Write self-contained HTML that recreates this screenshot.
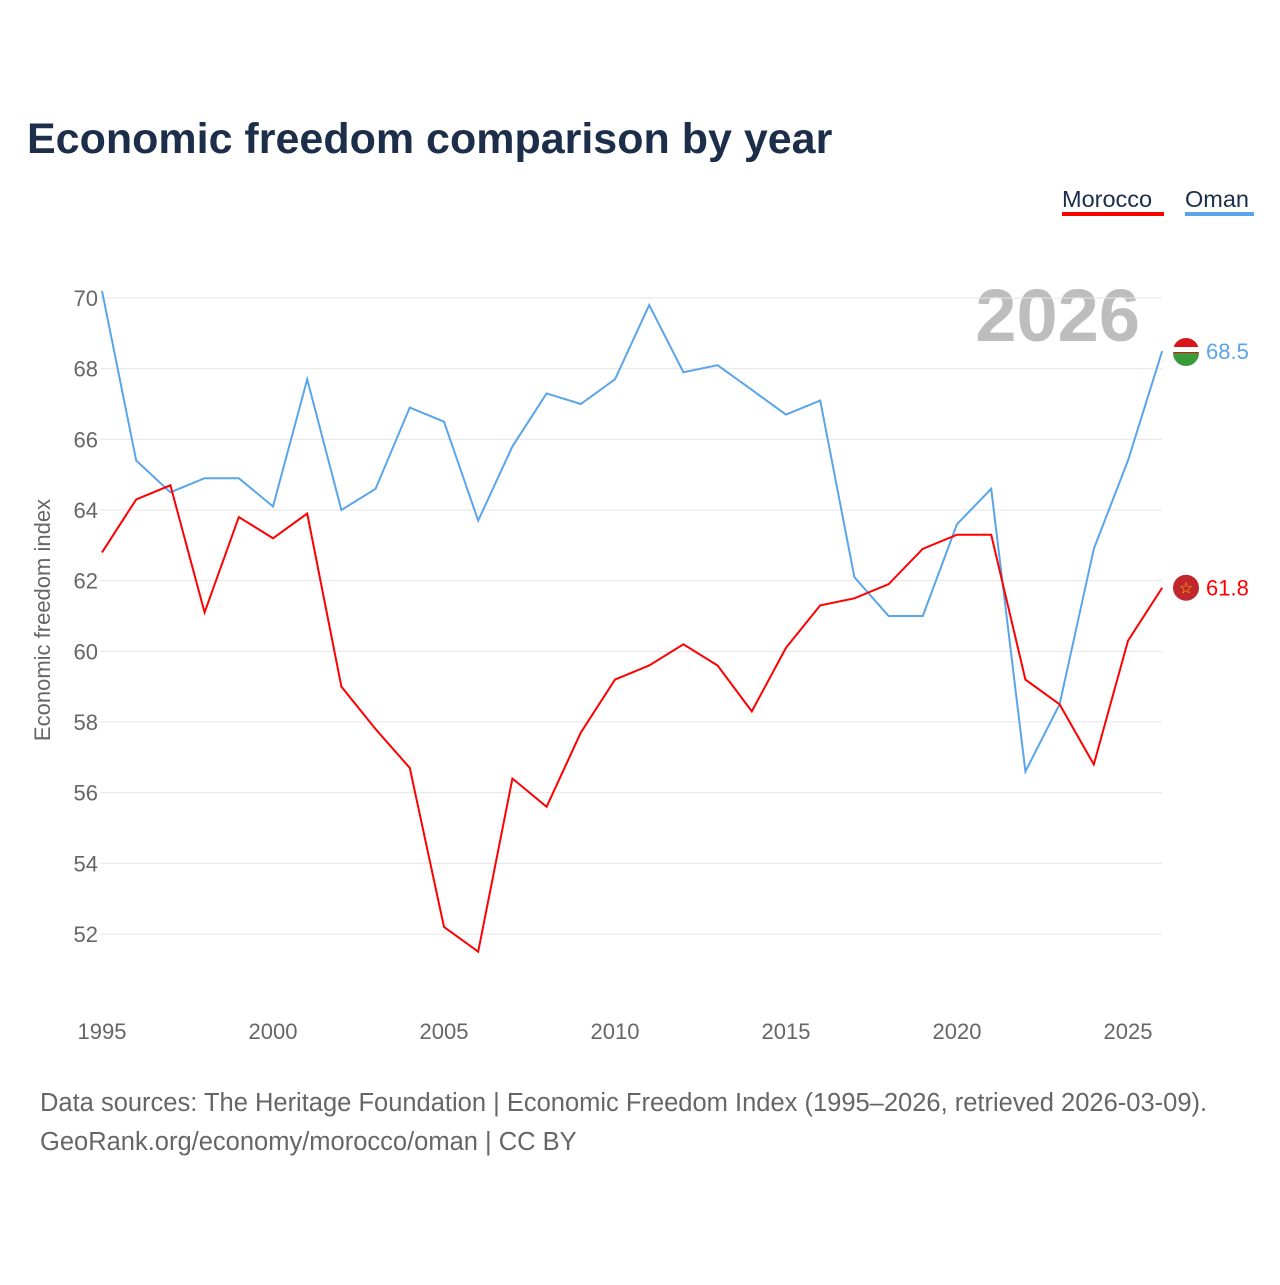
<!DOCTYPE html>
<html><head><meta charset="utf-8">
<style>
body{margin:0;background:#fff;font-family:"Liberation Sans",sans-serif;}
#wrap{position:relative;width:1280px;height:1280px;}
</style></head>
<body>
<div id="wrap">
<svg id="chart" width="1280" height="1280">
<text x="27" y="153" font-size="43" font-weight="bold" fill="#1c2e4a">Economic freedom comparison by year</text>
<g><text x="1062" y="207" font-size="23.5" fill="#1c2e4a">Morocco</text><rect x="1062" y="212" width="102" height="4" fill="#ff0000"/></g>
<g><text x="1185" y="207" font-size="23.5" fill="#1c2e4a">Oman</text><rect x="1185" y="212" width="69" height="4" fill="#5aa5ea"/></g>
<text x="1140" y="341" font-size="74" font-weight="bold" fill="#bdbdbd" text-anchor="end">2026</text>
<text transform="translate(50,620) rotate(-90)" font-size="22" fill="#666" text-anchor="middle">Economic freedom index</text>
<g id="grid"></g><g id="series"></g>
<text x="40" y="1111" font-size="25.5" fill="#666">Data sources: The Heritage Foundation | Economic Freedom Index (1995–2026, retrieved 2026-03-09).</text>
<text x="40" y="1150" font-size="25.5" fill="#666">GeoRank.org/economy/morocco/oman | CC BY</text>
</svg>
</div>
<script>
const years=[1995,1996,1997,1998,1999,2000,2001,2002,2003,2004,2005,2006,2007,2008,2009,2010,2011,2012,2013,2014,2015,2016,2017,2018,2019,2020,2021,2022,2023,2024,2025,2026];
const morocco=[62.8,64.3,64.7,61.1,63.8,63.2,63.9,59.0,57.8,56.7,52.2,51.5,56.4,55.6,57.7,59.2,59.6,60.2,59.6,58.3,60.1,61.3,61.5,61.9,62.9,63.3,63.3,59.2,58.5,56.8,60.3,61.8];
const oman=[70.2,65.4,64.5,64.9,64.9,64.1,67.7,64.0,64.6,66.9,66.5,63.7,65.8,67.3,67.0,67.7,69.8,67.9,68.1,67.4,66.7,67.1,62.1,61.0,61.0,63.6,64.6,56.6,58.5,62.9,65.4,68.5];
const yTicks=[52,54,56,58,60,62,64,66,68,70];
const xTicks=[1995,2000,2005,2010,2015,2020,2025];
const NS="http://www.w3.org/2000/svg";
const X=y=>102+(y-1995)*(1026/30);
const Y=v=>298+(70-v)*(636/18);
const grid=document.getElementById('grid'),series=document.getElementById('series');
function mk(tag,attrs,parent){const e=document.createElementNS(NS,tag);for(const k in attrs)e.setAttribute(k,attrs[k]);parent.appendChild(e);return e;}
yTicks.forEach(t=>{
 const l=mk('line',{x1:100,x2:1162,y1:Y(t),y2:Y(t),stroke:'#e6e6e6','stroke-width':1},grid);
 
 
 const tx=mk('text',{x:98,y:Y(t)+8,'font-size':22,fill:'#666','text-anchor':'end'},grid);tx.textContent=t;
 
 
});
xTicks.forEach(t=>{
 const tx=mk('text',{x:X(t),y:1039,'font-size':22,fill:'#666','text-anchor':'middle'},grid);tx.textContent=t;
 
 
});
function draw(vals,color,name){
 const p=mk('polyline',{points:vals.map((v,i)=>X(years[i])+','+Y(v)).join(' '),fill:'none',stroke:color,'stroke-width':2},series);
 
 
 const last=vals[vals.length-1];
 const c=mk('circle',{cx:1186,cy:Y(last),r:13,fill:name==='oman'?'#db161b':'#c1272d'},series);
 
 
 if(name==='oman'){mk('path',{d:`M1173,${Y(last)+2} h26 a13,13 0 0 1 -26,0z`,fill:'#3a9b3a'},series);mk('rect',{x:1173,y:Y(last)-4,width:26,height:5,fill:'#fff'},series);}
 else{const s=mk('text',{x:1186,y:Y(last)+6,'font-size':16,fill:'#f5c400','text-anchor':'middle'},series);s.textContent='☆';}
 const lbl=mk('text',{x:1206,y:Y(last)+8,'font-size':22,fill:color},series);lbl.textContent=last.toFixed(1);
 
 
}
draw(oman,'#5aa5ea','oman');
draw(morocco,'#ff0000','morocco');
</script>
</body></html>
